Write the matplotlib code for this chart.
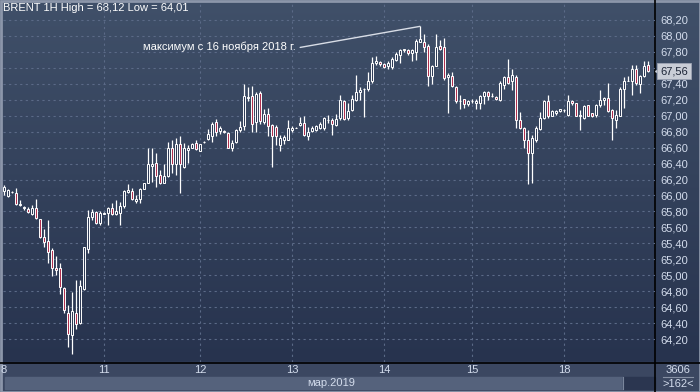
import numpy as np
import matplotlib
matplotlib.use("Agg")
import matplotlib.pyplot as plt
from matplotlib.patches import Rectangle
from matplotlib.colors import LinearSegmentedColormap
import matplotlib.transforms as mtransforms

# hourly BRENT candles, 8-18 march 2019
opens = [66.06, 65.99, 66.04, 66.03, 65.88, 65.84, 65.83, 65.77, 65.84, 65.70,
         65.48, 65.43, 65.31, 65.09, 65.09, 64.84, 64.53, 64.25, 64.53, 64.40,
         64.83, 65.33, 65.73, 65.79, 65.66, 65.77, 65.78, 65.84, 65.77, 65.78,
         65.87, 66.04, 66.06, 65.93, 65.95, 66.08, 66.16, 66.37, 66.41, 66.26,
         66.16, 66.24, 66.60, 66.39, 66.64, 66.36, 66.57, 66.60, 66.66, 66.56,
         66.67, 66.71, 66.74, 66.92, 66.81, 66.81, 66.78, 66.59, 66.67, 66.82,
         66.87, 67.22, 67.25, 66.92, 67.28, 66.92, 67.02, 66.88, 66.86, 66.63,
         66.69, 66.70, 66.82, 66.85, 66.88, 66.91, 66.75, 66.81, 66.82, 66.84,
         66.84, 66.95, 66.95, 66.88, 66.97, 67.19, 66.97, 67.07, 67.20, 67.30,
         67.33, 67.33, 67.43, 67.66, 67.67, 67.65, 67.62, 67.61, 67.70, 67.76,
         67.82, 67.82, 67.78, 67.80, 67.93, 67.93, 67.87, 67.50, 67.62, 67.87,
         67.86, 67.49, 67.50, 67.36, 67.19, 67.21, 67.15, 67.19, 67.16, 67.16,
         67.25, 67.30, 67.25, 67.23, 67.20, 67.39, 67.49, 67.43, 67.49, 66.95,
         66.85, 66.69, 66.53, 66.70, 66.83, 66.97, 67.18, 67.00, 67.03, 67.06,
         67.07, 67.01, 67.18, 67.16, 67.00, 66.97, 67.13, 67.03, 67.01, 67.13,
         67.20, 67.22, 67.07, 66.95, 66.99, 67.34, 67.43, 67.43, 67.59, 67.40,
         67.50, 67.63]
highs = [66.13, 66.08, 66.05, 66.09, 65.94, 65.87, 65.85, 65.88, 65.95, 65.71,
         65.58, 65.69, 65.34, 65.24, 65.15, 64.85, 64.63, 64.79, 64.94, 64.94,
         65.36, 65.82, 65.83, 65.80, 65.80, 65.79, 65.85, 65.90, 65.94, 65.92,
         66.07, 66.14, 66.09, 66.00, 66.09, 66.16, 66.59, 66.59, 66.53, 66.32,
         66.39, 66.67, 66.70, 66.72, 66.74, 66.66, 66.63, 66.66, 66.69, 66.65,
         66.68, 66.83, 66.92, 66.96, 66.87, 66.82, 66.79, 66.69, 66.83, 66.93,
         67.40, 67.36, 67.37, 67.30, 67.31, 67.08, 67.10, 66.90, 66.88, 66.76,
         66.76, 66.95, 66.87, 66.86, 66.98, 66.99, 66.86, 66.87, 66.88, 66.92,
         66.98, 67.01, 66.97, 67.02, 67.26, 67.20, 67.16, 67.26, 67.51, 67.36,
         67.35, 67.55, 67.74, 67.75, 67.69, 67.66, 67.69, 67.73, 67.80, 67.84,
         67.83, 67.83, 67.84, 67.96, 68.12, 68.03, 67.90, 67.64, 68.03, 67.95,
         67.97, 67.54, 67.55, 67.37, 67.26, 67.21, 67.20, 67.21, 67.21, 67.26,
         67.31, 67.31, 67.29, 67.25, 67.43, 67.50, 67.71, 67.59, 67.51, 67.05,
         66.86, 66.82, 66.76, 66.87, 67.05, 67.20, 67.26, 67.07, 67.07, 67.09,
         67.08, 67.26, 67.20, 67.16, 67.07, 67.13, 67.14, 67.04, 67.15, 67.32,
         67.24, 67.41, 67.08, 67.07, 67.36, 67.49, 67.50, 67.64, 67.64, 67.51,
         67.68, 67.68]
lows = [66.01, 65.98, 66.03, 65.88, 65.87, 65.82, 65.78, 65.76, 65.71, 65.47,
        65.35, 65.15, 64.99, 65.00, 64.76, 64.53, 64.10, 64.01, 64.32, 64.39,
        64.82, 65.28, 65.69, 65.64, 65.63, 65.77, 65.63, 65.76, 65.76, 65.63,
        65.84, 66.03, 65.94, 65.90, 65.90, 66.08, 66.16, 66.17, 66.11, 66.14,
        66.15, 66.23, 66.28, 66.26, 66.03, 66.35, 66.41, 66.59, 66.57, 66.56,
        66.66, 66.70, 66.67, 66.75, 66.77, 66.78, 66.60, 66.56, 66.66, 66.79,
        66.82, 67.19, 66.80, 66.80, 66.90, 66.90, 66.74, 66.36, 66.63, 66.56,
        66.65, 66.69, 66.80, 66.84, 66.87, 66.75, 66.70, 66.80, 66.81, 66.83,
        66.82, 66.91, 66.76, 66.87, 66.95, 66.95, 66.95, 67.06, 67.19, 67.20,
        66.98, 67.31, 67.41, 67.64, 67.62, 67.60, 67.59, 67.58, 67.68, 67.66,
        67.80, 67.76, 67.69, 67.70, 67.92, 67.80, 67.37, 67.40, 67.62, 67.82,
        67.45, 67.04, 67.36, 67.16, 67.08, 67.10, 67.12, 67.16, 67.09, 67.09,
        67.15, 67.20, 67.24, 67.20, 67.19, 67.34, 67.40, 67.32, 66.84, 66.83,
        66.60, 66.14, 66.15, 66.67, 66.82, 66.96, 66.97, 66.99, 67.01, 67.05,
        67.05, 67.00, 67.13, 67.00, 66.82, 66.96, 66.99, 66.98, 66.98, 67.11,
        67.13, 67.05, 66.70, 66.84, 66.99, 67.10, 67.43, 67.26, 67.38, 67.29,
        67.48, 67.55]
closes = [66.10, 66.07, 66.04, 65.89, 65.89, 65.85, 65.79, 65.84, 65.72, 65.48,
          65.42, 65.29, 65.09, 65.07, 64.85, 64.56, 64.26, 64.55, 64.39, 64.86,
          65.35, 65.73, 65.79, 65.65, 65.78, 65.78, 65.84, 65.77, 65.80, 65.87,
          66.05, 66.07, 65.95, 65.96, 66.08, 66.15, 66.39, 66.40, 66.24, 66.15,
          66.24, 66.60, 66.39, 66.65, 66.39, 66.60, 66.59, 66.65, 66.58, 66.64,
          66.67, 66.77, 66.90, 66.80, 66.84, 66.79, 66.60, 66.66, 66.82, 66.86,
          67.25, 67.23, 66.90, 67.27, 66.93, 67.02, 66.87, 66.75, 66.75, 66.72,
          66.73, 66.84, 66.84, 66.85, 66.91, 66.76, 66.80, 66.85, 66.87, 66.90,
          66.97, 66.95, 66.90, 66.96, 67.20, 66.96, 67.06, 67.21, 67.30, 67.32,
          67.34, 67.44, 67.66, 67.68, 67.65, 67.61, 67.66, 67.71, 67.77, 67.82,
          67.83, 67.78, 67.82, 67.94, 67.96, 67.86, 67.50, 67.62, 67.86, 67.83,
          67.47, 67.51, 67.37, 67.18, 67.19, 67.15, 67.19, 67.19, 67.19, 67.25,
          67.30, 67.25, 67.25, 67.21, 67.41, 67.49, 67.41, 67.51, 66.95, 66.84,
          66.70, 66.53, 66.72, 66.84, 66.97, 67.19, 66.99, 67.06, 67.06, 67.08,
          67.07, 67.18, 67.16, 67.00, 67.01, 67.12, 67.00, 66.99, 67.13, 67.20,
          67.22, 67.06, 66.97, 67.01, 67.34, 67.43, 67.44, 67.59, 67.41, 67.50,
          67.62, 67.56]

day_labels = ["8", "11", "12", "13", "14", "15", "18"]
day_starts = [0, 25, 49, 72, 95, 117, 140]
price_ticks = np.round(np.arange(64.2, 68.21, 0.2), 1)
peak_note = "максимум с 16 ноября 2018 г."

o = np.array(opens)
h = np.array(highs)
l = np.array(lows)
c = np.array(closes)
idx = np.arange(len(c))

plt.rcParams["font.family"] = ["Liberation Sans", "DejaVu Sans"]

W, H = 700, 392
TXT = "#d3dcec"
GRID = "#5b6a87"
FS = 8

fig = plt.figure(figsize=(7, 3.92), dpi=100)

# background in pixel coords
bg = fig.add_axes([0, 0, 1, 1])
bg.set_xlim(0, W)
bg.set_ylim(H, 0)
bg.axis("off")
cmap = LinearSegmentedColormap.from_list("bg", ["#405069", "#27334e"])
bg.imshow(np.linspace(0, 1, 256).reshape(-1, 1), extent=[0, W, 362, 0], cmap=cmap, aspect="auto")
bg.add_patch(Rectangle((0, 362), W, 30, color="#3b4761"))
bg.add_patch(Rectangle((5, 377), 618, 12, color="#55627c"))
bg.add_patch(Rectangle((623, 377), 32, 12, color="#2b3650"))
bg.plot([623, 623], [377, 389], color="#7a869c", lw=0.8)
bg.plot([655, 655], [0, H], color="black", lw=1.2)
bg.plot([0, W], [362.5, 362.5], color="black", lw=1.2)
bg.plot([663, 693], [377, 377], color="#8690a4", lw=0.8)
bg.add_patch(Rectangle((0.5, 0.5), W - 1, H - 1, fill=False, ec="#8c96aa", lw=2))
bg.text(3, 8, "BRENT 1H High = 68,12 Low = 64,01", color="white", fontsize=FS, va="center", ha="left")
bg.text(331, 383, "мар.2019", color=TXT, fontsize=FS, ha="center", va="center")
bg.text(678, 370, "3606", color=TXT, fontsize=FS, ha="center", va="center")
bg.text(678, 384, ">162<", color=TXT, fontsize=FS, ha="center", va="center")

# main chart
ax = fig.add_axes([3 / W, 30 / H, 652 / W, 361 / H])
ax.patch.set_alpha(0)
for s in ax.spines.values():
    s.set_visible(False)
ax.set_xlim(-0.25, 162.75)
ax.set_ylim(63.912, 68.438)

for p in price_ticks:
    ax.axhline(p, color=GRID, lw=0.8, ls=(0, (2, 3)), zorder=1)
for d in day_starts[1:]:
    ax.axvline(d, color=GRID, lw=0.8, ls=(0, (2, 3)), zorder=1)

up = c >= o
ax.vlines(idx, l, h, color="white", lw=0.9, zorder=2)
body = np.abs(c - o)
bottom = np.minimum(o, c)
ax.bar(idx[up], body[up], bottom=bottom[up], width=0.6, color="#313d58", edgecolor="white", lw=0.7, zorder=3)
ax.bar(idx[~up], body[~up], bottom=bottom[~up], width=0.6, color="#b0304f", edgecolor="white", lw=0.7, zorder=3)

last = c[-1]
ax.yaxis.tick_right()
ax.set_yticks(price_ticks)
# the tick hidden under the last price box is left blank
ax.set_yticklabels(["" if abs(p - last) < 0.1 else f"{p:.2f}".replace(".", ",") for p in price_ticks])
ax.tick_params(axis="y", length=0, pad=4, labelcolor=TXT, labelsize=FS)
ax.set_xticks(day_starts)
ax.set_xticklabels(day_labels)
ax.tick_params(axis="x", length=0, pad=2, labelcolor=TXT, labelsize=FS)

# last price marker
tr = mtransforms.blended_transform_factory(ax.transAxes, ax.transData)
ax.plot([1.004], [last], marker="<", ms=4, color="#c9cdd6", transform=tr, clip_on=False)
ax.text(1.008, last, f"{last:.2f}".replace(".", ","), transform=tr, ha="left", va="center",
        fontsize=FS, color="#1c2436",
        bbox=dict(boxstyle="square,pad=0.25", fc="#c9cdd6", ec="#9ea5b4", lw=0.6))

# peak annotation
top = int(np.argmax(h))
ax.annotate(peak_note, xy=(top, h[top]), xytext=(73, 67.86), ha="right", va="center",
            color="white", fontsize=FS,
            arrowprops=dict(arrowstyle="-", color="#d8dde6", lw=1, relpos=(1, 0.4), shrinkA=1, shrinkB=0))

fig.savefig("out.png", dpi=100)
